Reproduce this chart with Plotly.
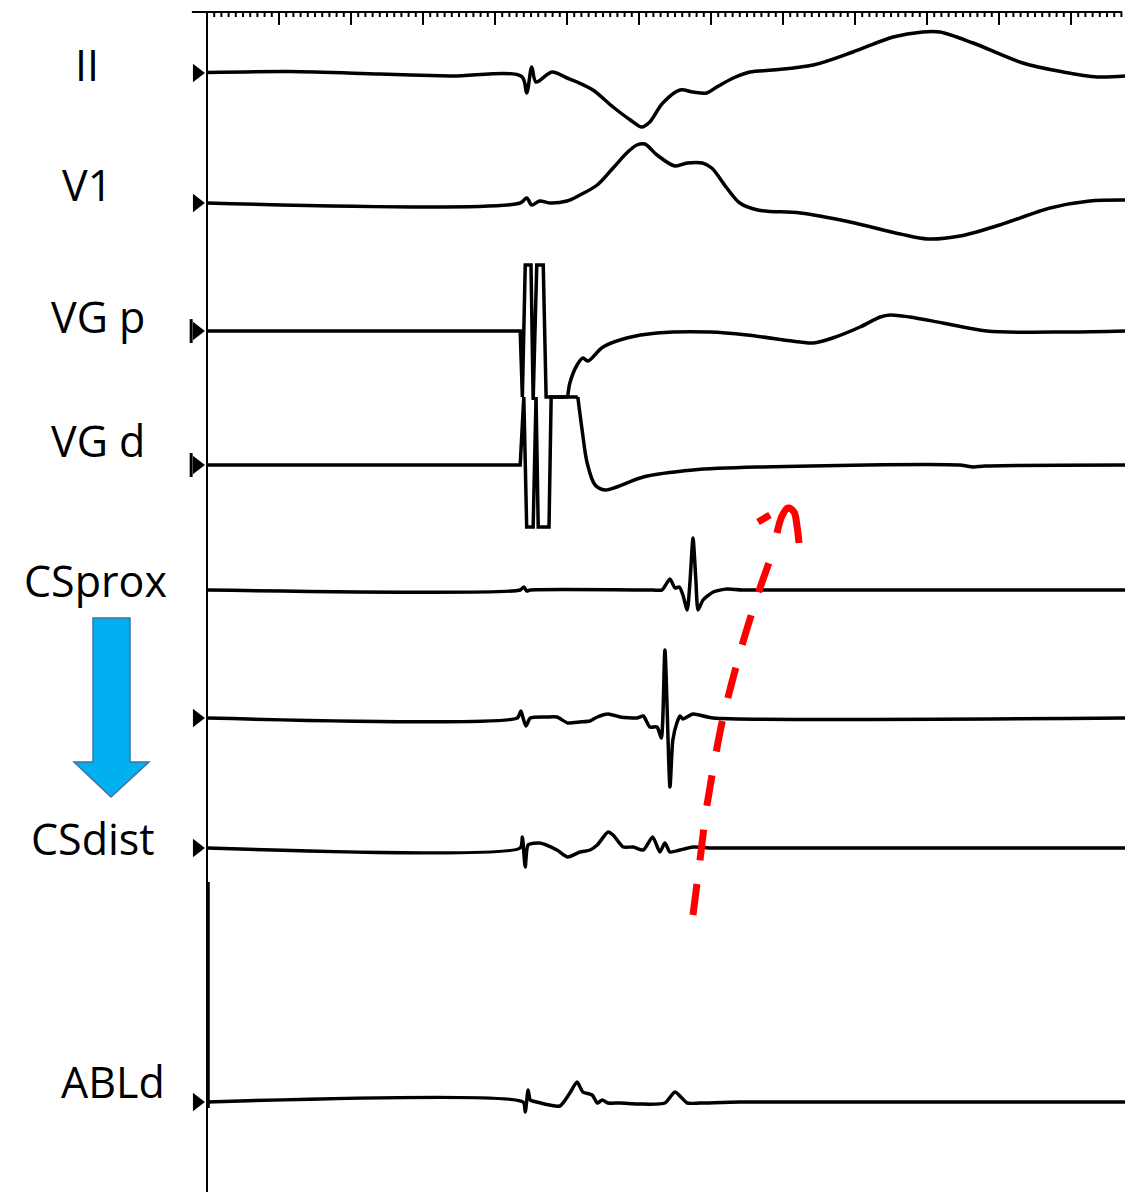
import numpy as np
import plotly.graph_objects as go

# ---------------- data (time in ms, amplitude in arbitrary units, up = positive) ----------------
labels = ["II", "V1", "VG p", "VG d", "CSprox", "CSdist", "ABLd"]

ii_t = [0, 115, 240, 338, 437, 444, 451, 457, 479, 500, 514, 536, 564, 588, 604, 615, 633, 657, 675, 694, 708, 731, 754, 786, 842, 897, 953, 994, 1018, 1064, 1133, 1189, 1236, 1275]
ii_v = [0.5, 1.5, -1, -3, -3.5, -20, 6, -9, 1, -5, -9, -17, -34, -47, -54, -49, -30, -17, -19, -20, -14, -5, 1, 3, 8, 21, 36, 41, 41, 30, 10, 1, -4, -3]

v1_t = [0, 435, 444, 451, 462, 476, 500, 518, 542, 564, 583, 597, 608, 625, 650, 667, 688, 701, 722, 740, 765, 824, 893, 963, 1001, 1046, 1101, 1171, 1226, 1275]
v1_v = [0, 0, 5, -2, 2, 0, 2, 8, 18, 35, 50, 58, 59, 48, 37, 40, 40, 35, 15, 0, -7, -10, -19, -31, -36, -33, -22, -5, 2, 3]

vgp_t = [0, 435, 438, 442, 450, 453, 458, 467, 471, 501, 504, 514, 522, 529, 550, 583, 625, 699, 750, 824, 842, 869, 907, 935, 949, 976, 1022, 1083, 1196, 1275]
vgp_v = [0, 0, -66, 66, 66, -69, 66, 66, -66, -66, -52, -34, -27, -30, -16, -7, -2, -1, -4, -11, -12, -7, 4, 14, 16, 14, 8, 0, -1, 0]

vgd_t = [0, 435, 440, 444, 453, 457, 460, 475, 478, 515, 521, 528, 539, 553, 569, 606, 675, 768, 1046, 1064, 1081, 1275]
vgd_v = [0, 0, 68, -62, -62, 68, -62, -62, 68, 68, 35, 2, -20, -25, -22, -12, -5, -2, 0, -2, -1, 0]

csp_t = [0, 435, 440, 444, 449, 619, 632, 643, 650, 656, 661, 667, 671, 675, 679, 682, 689, 703, 722, 744, 1275]
csp_v = [0, 0, 3, -1, 0, 0, 0, 11, 2, 3, -5, -20, 10, 52, 10, -20, -10, -2, 1, 0, 0]

csm_t = [0, 431, 436, 439, 443, 449, 472, 486, 501, 518, 532, 542, 557, 574, 597, 606, 615, 625, 631, 636, 643, 647, 653, 657, 661, 675, 703, 1275]
csm_v = [0, 0, 7, 0, -8, 0, 1, 1, -5, -4, -3, 1, 4, 1, 0, 2, -9, -9, -20, 68, -69, -22, -4, 2, -1, 4, 0, 0]

csd_t = [0, 435, 438, 442, 446, 462, 486, 501, 518, 532, 542, 557, 564, 578, 592, 606, 619, 629, 636, 643, 657, 675, 703, 1275]
csd_v = [0, 0, 11, -19, 3, 5, -2, -9, -4, -2, 3, 16, 13, 1, 1, -2, 11, -4, 5, -4, -2, 1, 0, 0]

abl_t = [0, 439, 442, 446, 449, 458, 490, 504, 514, 522, 535, 542, 549, 557, 574, 601, 636, 650, 667, 685, 740, 1275]
abl_v = [0, 0, -10, 12, 2, 0, -4, 9, 20, 10, 7, -1, 2, -1, -1, -2, -1, 10, -1, -1, 0, 0]

ruler_minor_ms = 10
ruler_major_ms = 100
ruler_end_ms = 1270

# ---------------- layout constants ----------------
W, H = 1138, 1192
PX_PER_MS = 0.72
X0_PX = 207
x_range = [(0 - X0_PX) / PX_PER_MS, (W - X0_PX) / PX_PER_MS]

# (name, t, v, baseline px, smoothing, index where pacing artefact ends)
channels = [
    ("II", ii_t, ii_v, 73, 0.9, None),
    ("V1", v1_t, v1_v, 203, 0.9, None),
    ("VG p", vgp_t, vgp_v, 331, 0.9, 9),
    ("VG d", vgd_t, vgd_v, 465, 0.9, 9),
    ("CSprox", csp_t, csp_v, 590, 0.6, None),
    ("CSmid", csm_t, csm_v, 718, 0.6, None),
    ("CSdist", csd_t, csd_v, 848, 0.6, None),
    ("ABLd", abl_t, abl_v, 1102, 0.6, None),
]

LW = 3.5
fig = go.Figure()

for name, t, v, base, sm, split in channels:
    y = [base - a for a in v]
    if split is None:
        fig.add_trace(go.Scatter(x=t, y=y, mode="lines",
                                 line=dict(color="black", width=LW, shape="spline", smoothing=sm),
                                 hoverinfo="skip", showlegend=False))
    else:
        fig.add_trace(go.Scatter(x=t[:split + 1], y=y[:split + 1], mode="lines",
                                 line=dict(color="black", width=LW, shape="linear"),
                                 hoverinfo="skip", showlegend=False))
        fig.add_trace(go.Scatter(x=t[split:], y=y[split:], mode="lines",
                                 line=dict(color="black", width=LW, shape="spline", smoothing=sm),
                                 hoverinfo="skip", showlegend=False))

# ruler at the top
ruler_y = 12
rx, ry = [-21, ruler_end_ms + 1, None], [ruler_y, ruler_y, None]
for tk in np.arange(0, ruler_end_ms + 1, ruler_minor_ms):
    ln = 13 if tk % ruler_major_ms == 0 else 5
    rx += [tk, tk, None]
    ry += [ruler_y, ruler_y + ln, None]
fig.add_trace(go.Scatter(x=rx, y=ry, mode="lines", line=dict(color="black", width=2),
                         hoverinfo="skip", showlegend=False))

# channel markers
marker_bases = [73, 203, 331, 465, 718, 848, 1102]
fig.add_trace(go.Scatter(x=[-14] * len(marker_bases), y=marker_bases, mode="markers",
                         marker=dict(symbol="triangle-right", size=16, color="black"),
                         hoverinfo="skip", showlegend=False))
fig.add_trace(go.Scatter(x=[-22, -22], y=[331, 465], mode="markers",
                         marker=dict(symbol="line-ns", size=17, line=dict(width=3, color="black")),
                         hoverinfo="skip", showlegend=False))

# red dashed conduction arrow (decoration, pixel space)
red_x = [693, 700, 707, 723, 743, 760, 770]
red_y = [915, 860, 805, 718, 642, 588, 560]
fig.add_trace(go.Scatter(x=red_x, y=red_y, xaxis="x2", mode="lines",
                         line=dict(color="#FF0000", width=7, dash="31px,24px", shape="spline", smoothing=0.8),
                         hoverinfo="skip", showlegend=False))
hook_x = [777, 782, 788, 794, 797, 799]
hook_y = [533, 516, 508, 512, 526, 543]
fig.add_trace(go.Scatter(x=hook_x, y=hook_y, xaxis="x2", mode="lines",
                         line=dict(color="#FF0000", width=7, shape="spline"),
                         hoverinfo="skip", showlegend=False))
fig.add_trace(go.Scatter(x=[758, 770], y=[522, 515], xaxis="x2", mode="lines",
                         line=dict(color="#FF0000", width=7),
                         hoverinfo="skip", showlegend=False))

shapes = [
    dict(type="line", xref="x", yref="y", x0=0, x1=0, y0=12, y1=1192,
         line=dict(color="black", width=2)),
    dict(type="line", xref="x", yref="y", x0=1.4, x1=1.4, y0=882, y1=1108,
         line=dict(color="black", width=3.5)),
    dict(type="path", xref="x2", yref="y",
         path="M 93,618 L 130,618 L 130,762 L 149,762 L 111,797 L 74,762 L 93,762 Z",
         fillcolor="#00B0F0", line=dict(color="#41719C", width=1.5)),
]

label_pos = {
    "II": (87, 64), "V1": (87, 184), "VG p": (98, 316), "VG d": (98, 441),
    "CSprox": (95, 581), "CSdist": (93, 838), "ABLd": (113, 1081),
}
annotations = []
for lab in labels:
    px, py = label_pos[lab]
    annotations.append(dict(text=lab, x=px / W, y=1 - py / H, xref="paper", yref="paper",
                            xanchor="center", yanchor="middle", showarrow=False,
                            font=dict(family="Open Sans", size=43, color="black")))

fig.update_layout(
    width=W, height=H, margin=dict(l=0, r=0, t=0, b=0),
    paper_bgcolor="white", plot_bgcolor="white",
    xaxis=dict(range=x_range, visible=False, fixedrange=True),
    xaxis2=dict(range=[0, W], visible=False, overlaying="x", fixedrange=True),
    yaxis=dict(range=[H, 0], visible=False, fixedrange=True),
    shapes=shapes, annotations=annotations, showlegend=False,
)

fig.write_html("out.html")
